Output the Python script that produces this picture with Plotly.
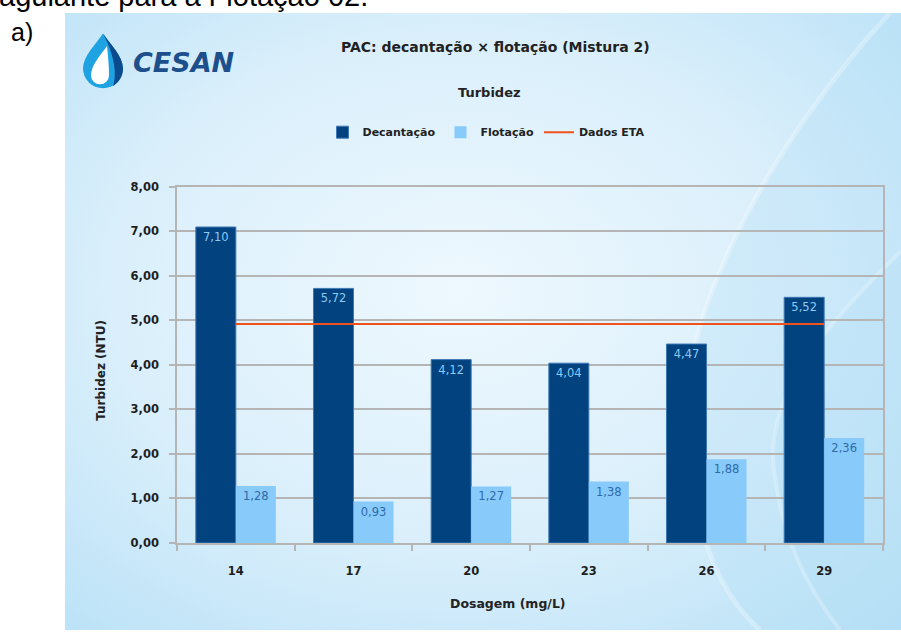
import base64
import plotly.graph_objects as go

# ---- data ----
dosagem = ["14", "17", "20", "23", "26", "29"]
decantacao = [7.10, 5.72, 4.12, 4.04, 4.47, 5.52]
flotacao = [1.28, 0.93, 1.27, 1.38, 1.88, 2.36]
dados_eta = [4.92, 4.92, 4.92, 4.92, 4.92, 4.92]
y_ticks = [0, 1, 2, 3, 4, 5, 6, 7, 8]

W, H = 901, 637


def px(x):
    return x / W


def py(y):
    return 1 - y / H


def fmt(v):
    return f"{v:.2f}".replace(".", ",")


# ---- panel background: soft blue gradient, swirls and the drop mark of the logo ----
PX0, PY0 = 65, 6
PW, PH = W - PX0, H - PY0
svg = f"""<svg xmlns="http://www.w3.org/2000/svg" width="{PW}" height="{PH}" viewBox="0 0 {PW} {PH}">
<defs>
<radialGradient id="g" cx="0.47" cy="0.45" r="0.75">
<stop offset="0" stop-color="#eef8fe"/>
<stop offset="0.55" stop-color="#daeffb"/>
<stop offset="1" stop-color="#b9e1f7"/>
</radialGradient>
</defs>
<rect width="{PW}" height="{PH}" fill="url(#g)"/>
<g transform="translate({-PX0},{-PY0})">
<path d="M 890,6 C 760,150 660,350 690,470 C 700,560 730,610 760,637 L 901,637 L 901,6 Z"
      fill="#b4dff5" fill-opacity="0.35"/>
<path d="M 890,6 C 760,150 660,350 690,470 C 700,560 730,610 760,637"
      stroke="#ffffff" stroke-opacity="0.28" stroke-width="5" fill="none"/>
<path d="M 901,250 C 830,320 760,400 775,480 C 785,560 820,610 840,637 L 901,637 Z"
      fill="#b4dff5" fill-opacity="0.3"/>
<path d="M 901,250 C 830,320 760,400 775,480 C 785,560 820,610 840,637"
      stroke="#ffffff" stroke-opacity="0.25" stroke-width="4" fill="none"/>
<path d="M103,27 C110,38 123,50 123,63 A20,20 0 1 1 83,63 C83,50 96,38 103,27 Z" fill="#1ea2e1"/>
<path d="M103,27 C110,38 123,50 123,63 C123,71 119,77 113,81 C117,70 115,50 103,27 Z" fill="#0b4a8c"/>
<path d="M107,40 C108,50 109,60 109,70 A9,9 0 1 1 91,70 C91,60 100,50 107,40 Z" fill="#ffffff"/>
</g>
</svg>"""
bg_uri = "data:image/svg+xml;base64," + base64.b64encode(svg.encode()).decode()

fig = go.Figure()

fig.add_trace(go.Bar(
    x=dosagem, y=decantacao, name="Decantação",
    marker=dict(color="#01427f", line=dict(color="#3d78b4", width=1)),
    text=[fmt(v) for v in decantacao], textposition="inside",
    insidetextanchor="end", textangle=0,
    textfont=dict(family="DejaVu Sans", size=11.5, color="#8ccaf3"),
))
fig.add_trace(go.Bar(
    x=dosagem, y=flotacao, name="Flotação",
    marker=dict(color="#88cafa", line=dict(color="#88cafa", width=0)),
    text=[fmt(v) for v in flotacao], textposition="inside",
    insidetextanchor="end", textangle=0,
    textfont=dict(family="DejaVu Sans", size=11.5, color="#2e6aa8"),
))
fig.add_trace(go.Scatter(
    x=dosagem, y=dados_eta, name="Dados ETA", mode="lines",
    line=dict(color="#f0521c", width=2),
))

grid = "#b5b5b5"
tick_font = dict(family="DejaVu Sans", size=11.5, color="#1e1e1e", weight="bold")

fig.update_layout(
    width=W, height=H, autosize=False,
    margin=dict(l=0, r=0, t=0, b=0),
    paper_bgcolor="white", plot_bgcolor="rgba(0,0,0,0)",
    separators=",.",
    barmode="group", bargap=0.32, bargroupgap=0,
    showlegend=True,
    legend=dict(
        orientation="h", x=px(486), xanchor="center", y=py(128), yanchor="middle",
        font=dict(family="DejaVu Sans", size=11, color="#222", weight="bold"),
        bgcolor="rgba(0,0,0,0)", itemwidth=30, traceorder="normal",
    ),
    xaxis=dict(
        domain=[px(177), px(883)], type="category",
        showline=True, linecolor=grid, linewidth=1.5, mirror=True,
        ticks="outside", tickson="boundaries", ticklen=6, tickcolor=grid, tickwidth=1.5,
        showgrid=False, tickfont=tick_font, ticklabelstandoff=16,
    ),
    yaxis=dict(
        domain=[py(548), py(184)], range=[0, 8], tickvals=y_ticks, tickformat=".2f",
        showline=True, linecolor=grid, linewidth=1.5, mirror=True,
        ticks="outside", ticklen=6, tickcolor=grid, tickwidth=1.5,
        showgrid=True, gridcolor=grid, gridwidth=1.5,
        tickfont=tick_font, ticklabelstandoff=8, zeroline=False,
    ),
    images=[dict(
        source=bg_uri, xref="paper", yref="paper",
        x=px(PX0), y=py(PY0), sizex=PW / W, sizey=PH / H,
        xanchor="left", yanchor="top", sizing="stretch", layer="below",
    )],
)

annotations = [
    dict(text="<i>CESAN</i>", x=px(131), y=py(57), xanchor="left", yanchor="middle",
         font=dict(family="DejaVu Sans", size=27, color="#1c4f8c", weight="bold")),
    dict(text="PAC: decantação × flotação (Mistura 2)", x=px(495), y=py(41),
         xanchor="center", yanchor="middle",
         font=dict(family="DejaVu Sans", size=14, color="#222", weight="bold")),
    dict(text="Turbidez", x=px(489), y=py(87), xanchor="center", yanchor="middle",
         font=dict(family="DejaVu Sans", size=13, color="#222", weight="bold")),
    dict(text="Turbidez (NTU)", x=px(101), y=py(372), xanchor="center", yanchor="middle",
         textangle=-90,
         font=dict(family="DejaVu Sans", size=12, color="#222", weight="bold")),
    dict(text="Dosagem (mg/L)", x=px(508), y=py(610), xanchor="center", yanchor="middle",
         font=dict(family="DejaVu Sans", size=12.5, color="#222", weight="bold")),
    dict(text="agulante para a Flotação 02.", x=px(-3), y=py(7), xanchor="left", yanchor="bottom",
         font=dict(family="Liberation Sans", size=29, color="#000")),
    dict(text="a)", x=px(9), y=py(9), xanchor="left", yanchor="top",
         font=dict(family="Liberation Sans", size=25, color="#000")),
]
for a in annotations:
    a.update(xref="paper", yref="paper", showarrow=False)
fig.update_layout(annotations=annotations)

fig.write_html("out.html")
